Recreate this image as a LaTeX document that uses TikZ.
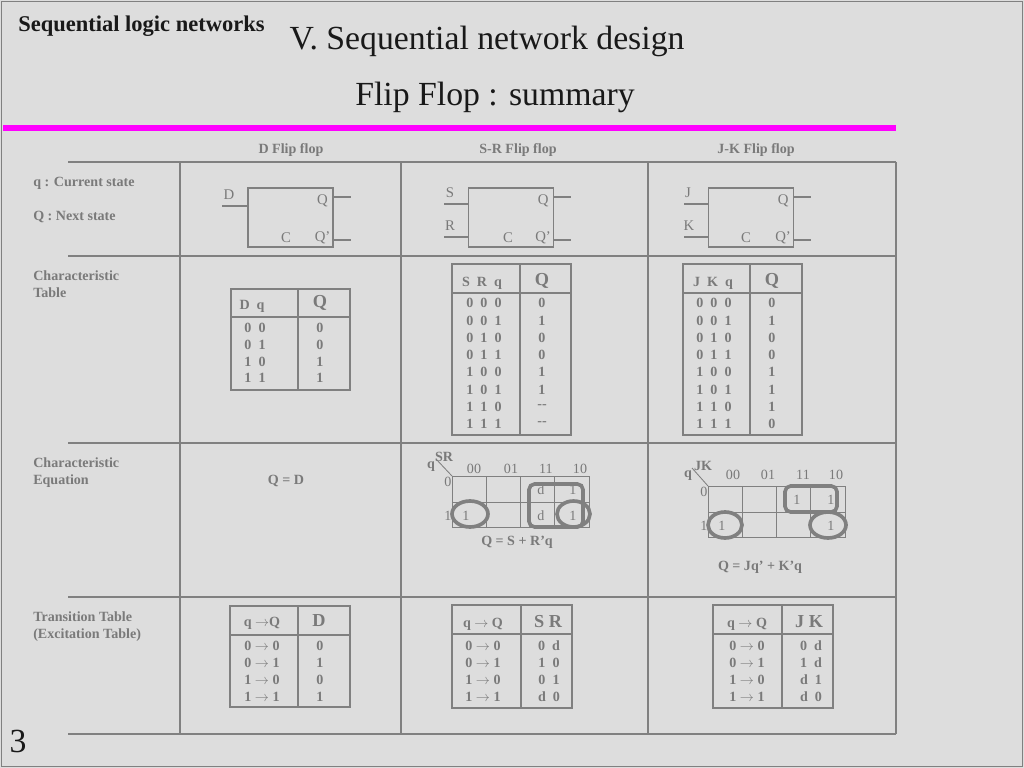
\documentclass[tikz,border=0pt]{standalone}
\usepackage{fontspec}
\setmainfont{Liberation Serif}
\usetikzlibrary{calc}

\definecolor{slidebg}{RGB}{221,221,221}
\definecolor{rulegray}{RGB}{128,128,128}
\definecolor{inkgray}{RGB}{122,122,122}
\definecolor{titleink}{RGB}{25,25,25}
\definecolor{pinkrule}{RGB}{255,0,255}

\tikzstyle{rule} = [draw=rulegray, line width=1.6pt]
\tikzstyle{tblframe} = [draw=rulegray, line width=0.8pt]
\tikzstyle{ffbox} = [draw=rulegray, line width=0.8pt, minimum width=2.125cm, minimum height=1.475cm, inner sep=0pt]
\tikzstyle{lead} = [draw=rulegray, line width=0.8pt]
\tikzstyle{fftext} = [font=\fontsize{10.5}{12}\selectfont, text=inkgray, inner sep=0pt]
\tikzstyle{entry} = [font=\fontsize{10}{12}\selectfont\bfseries, text=inkgray, inner sep=0pt]
\tikzstyle{bighead} = [font=\fontsize{13}{15}\selectfont\bfseries, text=inkgray, inner sep=0pt]
\tikzstyle{side} = [font=\fontsize{10}{12}\selectfont\bfseries, text=inkgray, anchor=west, align=left, inner sep=0pt]
\tikzstyle{kmap} = [draw=rulegray, line width=0.6pt]
\tikzstyle{kloop} = [draw=rulegray, line width=2.6pt]
\tikzstyle{ktext} = [font=\fontsize{10}{12}\selectfont, text=inkgray, inner sep=0pt]
\tikzstyle{titletext} = [font=\fontsize{24}{28}\selectfont, text=titleink, inner sep=0pt]

\begin{document}
\begin{tikzpicture}[x=0.025cm, y=-0.025cm]
    \useasboundingbox (0,0) rectangle (1024,768);
    % First the slide and its titles
    \fill[slidebg] (0,0) rectangle (1024,768);
    \draw[rulegray, line width=0.9pt] (1.5,1.5) rectangle (1022.5,766.5);
    \node[font=\fontsize{16}{18}\selectfont\bfseries, text=titleink, anchor=west, inner sep=0pt] (topic) at (18,26) {Sequential logic networks};
    \node[titletext] (title) at (487,41) {V. Sequential network design};
    \node[titletext] (subtitle) at (495,97) {Flip Flop : summary};
    \node[titletext] (pagenum) at (18,741) {3};
    \draw[pinkrule, line width=4pt] (3,128) -- (896,128);

    % The grid of the summary
    \foreach \y in {162,256,443,597,734}
        \draw[rule] (68,\y) -- (896,\y);
    \foreach \x in {180,401,648,896}
        \draw[rule] (\x,162) -- (\x,734);
    \foreach \txt/\x [count=\i] in {D Flip flop/291, S-R Flip flop/518, J-K Flip flop/756}
        \node[entry] (colhead\i) at (\x,150) {\txt};
    \node[side] (cur) at (33,183) {q : Current state};
    \node[side] (next) at (33,217) {Q : Next state};
    \node[side] (chartab) at (33,284.5) {Characteristic\\Table};
    \node[side] (chareq) at (33,472.5) {Characteristic\\Equation};
    \node[side] (trans) at (33,626.5) {Transition Table\\(Excitation Table)};

    % Then the three flip flop symbols
    \foreach \name/\cx/\cc in {ffD/290.5/286, ffSR/511/508, ffJK/751/746} {
        \node[ffbox] (\name) at (\cx,217.5) {};
        \coordinate (\name-q) at ($(\name.east)+(17,-20.5)$);
        \coordinate (\name-nq) at ($(\name.east)+(17,22.5)$);
        \draw[lead] (\name.east |- \name-q) -- (\name-q);
        \draw[lead] (\name.east |- \name-nq) -- (\name-nq);
        \node[fftext] (\name-Q) at ($(\name.east)+(-11,-17)$) {Q};
        \node[fftext] (\name-nQ) at ($(\name.east)+(-11,20)$) {Q'};
        \node[fftext] (\name-C) at (\cc,237.5) {C};
    }
    \foreach \name/\txt/\lx/\ly/\sx/\py in {ffD/D/229/195/222/206, ffSR/S/450/193/444/204, ffSR/R/450/226/444/237, ffJK/J/688/193/684/204, ffJK/K/689/226/684/237} {
        \node[fftext] (\name-in\txt) at (\lx,\ly) {\txt};
        \coordinate (\name-w\txt) at (\sx,\py);
        \draw[lead] (\name-w\txt) -- (\name-w\txt -| \name.west);
    }

    % Characteristic tables
    \draw[tblframe] (231,289) rectangle (350,390);
    \draw[tblframe] (298,289) -- (298,390);
    \draw[tblframe] (231,317) -- (350,317);
    \node[entry] (dct-in) at (252,306) {D~~q};
    \node[bighead] (dct-out) at (320,303) {Q};
    \foreach \bits/\val [count=\i] in {0~~0/0, 0~~1/0, 1~~0/1, 1~~1/1} {
        \node[entry] (dct-a\i) at (255,{311.3+16.7*\i}) {\bits};
        \node[entry] (dct-b\i) at (320,{311.3+16.7*\i}) {\val};
    }
    \draw[tblframe] (452,264) rectangle (571,435);
    \draw[tblframe] (520,264) -- (520,435);
    \draw[tblframe] (452,293) -- (571,293);
    \node[entry] (srct-in) at (482,283) {S~~R~~q};
    \node[bighead] (srct-out) at (542,281) {Q};
    \foreach \bits/\val [count=\i] in {0~~0~~0/0, 0~~0~~1/1, 0~~1~~0/0, 0~~1~~1/0, 1~~0~~0/1, 1~~0~~1/1, 1~~1~~0/-{}-, 1~~1~~1/-{}-} {
        \node[entry] (srct-a\i) at (484,{286+17.25*\i}) {\bits};
        \node[entry] (srct-b\i) at (542,{286+17.25*\i}) {\val};
    }
    \draw[tblframe] (683,264) rectangle (802,435);
    \draw[tblframe] (750,264) -- (750,435);
    \draw[tblframe] (683,293) -- (802,293);
    \node[entry] (jkct-in) at (713,283) {J~~K~~q};
    \node[bighead] (jkct-out) at (772,281) {Q};
    \foreach \bits/\val [count=\i] in {0~~0~~0/0, 0~~0~~1/1, 0~~1~~0/0, 0~~1~~1/0, 1~~0~~0/1, 1~~0~~1/1, 1~~1~~0/1, 1~~1~~1/0} {
        \node[entry] (jkct-a\i) at (714,{286+17.25*\i}) {\bits};
        \node[entry] (jkct-b\i) at (772,{286+17.25*\i}) {\val};
    }

    % Characteristic equations with their maps
    \node[entry] (deq) at (286,481) {Q = D};
    % S-R map
    \draw[kmap] (452,476) rectangle (589,527);
    \foreach \x in {486.25,520.5,554.75}
        \draw[kmap] (\x,476) -- (\x,527);
    \draw[kmap] (452,502) -- (589,502);
    \coordinate (srk-corner) at (452,476);
    \coordinate (srk-tip) at (436,459);
    \draw[kmap] (srk-corner) -- (srk-tip);
    \node[entry] (srk-sr) at (444,457) {SR};
    \node[entry] (srk-q) at (431,467) {q};
    \foreach \h/\x in {00/474, 01/511, 11/546, 10/580}
        \node[ktext] (srk-\h) at (\x,469) {\h};
    \foreach \r/\y in {0/482, 1/516}
        \node[ktext] (srk-r\r) at (448,\y) {\r};
    \foreach \v/\x/\y [count=\i] in {d/541/490, 1/573/490, 1/466/516, d/541/516, 1/573/516}
        \node[ktext] (srk-c\i) at (\x,\y) {\v};
    \draw[kloop, rounded corners=4pt] (529,484) rectangle (583,527);
    \draw[kloop] (470,514) ellipse [x radius=18, y radius=13];
    \draw[kloop] (573.5,514) ellipse [x radius=16.5, y radius=13];
    \node[entry] (sreq) at (517,542) {Q = S + R'q};
    % J-K map
    \draw[kmap] (708,486) rectangle (845,537);
    \foreach \x in {742.25,776.5,810.75}
        \draw[kmap] (\x,486) -- (\x,537);
    \draw[kmap] (708,512) -- (845,512);
    \coordinate (jkk-corner) at (708,486);
    \coordinate (jkk-tip) at (692,468);
    \draw[kmap] (jkk-corner) -- (jkk-tip);
    \node[entry] (jkk-jk) at (703,466) {JK};
    \node[entry] (jkk-q) at (688,476) {q};
    \foreach \h/\x in {00/733, 01/768, 11/803, 10/836}
        \node[ktext] (jkk-\h) at (\x,475) {\h};
    \foreach \r/\y in {0/492, 1/526}
        \node[ktext] (jkk-r\r) at (704,\y) {\r};
    \foreach \v/\x/\y [count=\i] in {1/797/500, 1/831/500, 1/722/526, 1/831/526}
        \node[ktext] (jkk-c\i) at (\x,\y) {\v};
    \draw[kloop, rounded corners=4pt] (785,486) rectangle (837,512);
    \draw[kloop] (725,525) ellipse [x radius=17, y radius=13];
    \draw[kloop] (828,525) ellipse [x radius=18, y radius=13];
    \node[entry] (jkeq) at (760,567) {Q = Jq' + K'q};

    % Transition tables
    \draw[tblframe] (230,606) rectangle (350,707);
    \draw[tblframe] (298,606) -- (298,707);
    \draw[tblframe] (230,635) -- (350,635);
    \node[entry] (dtt-in) at (262,623) {q $\rightarrow$Q};
    \node[bighead] (dtt-out) at (319,621) {D};
    \foreach \step/\val [count=\i] in {0 $\rightarrow$ 0/0, 0 $\rightarrow$ 1/1, 1 $\rightarrow$ 0/0, 1 $\rightarrow$ 1/1} {
        \node[entry] (dtt-a\i) at (262,{629+17*\i}) {\step};
        \node[entry] (dtt-b\i) at (320,{629+17*\i}) {\val};
    }
    \draw[tblframe] (452,605) rectangle (572,708);
    \draw[tblframe] (521,605) -- (521,708);
    \draw[tblframe] (452,634) -- (572,634);
    \node[entry] (srtt-in) at (483,624) {q $\rightarrow$ Q};
    \node[bighead] (srtt-out) at (548,622) {S R};
    \foreach \step/\val [count=\i] in {0 $\rightarrow$ 0/0~~d, 0 $\rightarrow$ 1/1~~0, 1 $\rightarrow$ 0/0~~1, 1 $\rightarrow$ 1/d~~0} {
        \node[entry] (srtt-a\i) at (483,{629+17*\i}) {\step};
        \node[entry] (srtt-b\i) at (549,{629+17*\i}) {\val};
    }
    \draw[tblframe] (713,605) rectangle (833,708);
    \draw[tblframe] (782,605) -- (782,708);
    \draw[tblframe] (713,634) -- (833,634);
    \node[entry] (jktt-in) at (747,624) {q $\rightarrow$ Q};
    \node[bighead] (jktt-out) at (809,622) {J K};
    \foreach \step/\val [count=\i] in {0 $\rightarrow$ 0/0~~d, 0 $\rightarrow$ 1/1~~d, 1 $\rightarrow$ 0/d~~1, 1 $\rightarrow$ 1/d~~0} {
        \node[entry] (jktt-a\i) at (747,{629+17*\i}) {\step};
        \node[entry] (jktt-b\i) at (811,{629+17*\i}) {\val};
    }
\end{tikzpicture}
\end{document}
